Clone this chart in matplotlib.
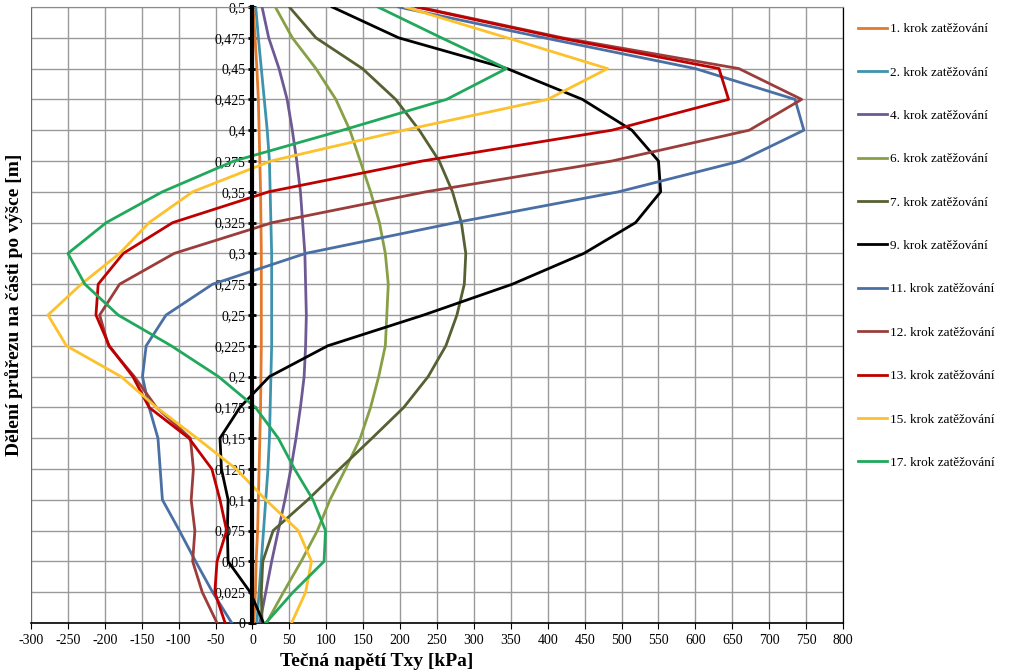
import matplotlib
matplotlib.use("Agg")
import matplotlib.pyplot as plt

plt.rcParams['font.family'] = ['Liberation Serif', 'DejaVu Serif']

# vyska v prurezu [m]
vyska = [0, 0.025, 0.05, 0.075, 0.1, 0.125, 0.15, 0.175, 0.2, 0.225, 0.25,
         0.275, 0.3, 0.325, 0.35, 0.375, 0.4, 0.425, 0.45, 0.475, 0.5]
vyska_popisky = ['0', '0,025', '0,05', '0,075', '0,1', '0,125', '0,15', '0,175', '0,2',
                 '0,225', '0,25', '0,275', '0,3', '0,325', '0,35', '0,375', '0,4',
                 '0,425', '0,45', '0,475', '0,5']
x_ticks = [-300, -250, -200, -150, -100, -50, 0, 50, 100, 150, 200, 250, 300,
           350, 400, 450, 500, 550, 600, 650, 700, 750, 800]

# tecna napeti Txy [kPa] pro jednotlive kroky zatezovani (odspodu nahoru)
krok1 = [2, 4, 5, 7, 8, 9, 10, 11, 11.5, 12, 12, 12, 12, 11.5, 11, 10, 9, 8, 6, 3.5, 1]
krok2 = [6, 9, 12, 15, 18, 21, 23, 24, 25, 26, 26, 26, 26, 25, 24, 23, 20, 16, 12, 8, 4.5]
krok4 = [10, 18, 26, 35, 44, 52, 59, 65, 70, 72, 73, 72, 71, 68, 65, 60, 54, 47, 36, 22, 13]
krok6 = [19, 42, 66, 88, 105, 126, 146, 160, 171, 180, 182, 184, 180, 172, 160, 146, 132, 113, 86, 54, 31]
krok7 = [13, 12, 14, 28, 75, 118, 162, 205, 238, 262, 277, 287, 289, 283, 271, 253, 226, 194, 149, 86, 50]
krok9 = [15, -3, -33, -34, -33, -42, -44, -17, 23, 102, 232, 352, 449, 519, 553, 550, 514, 447, 345, 198, 108]
krok11 = [-28, -54, -77, -99, -122, -125, -128, -140, -149, -144, -117, -54, 72, 275, 496, 661, 747, 735, 600, 395, 198]
krok12 = [-48, -68, -81, -78, -83, -80, -84, -130, -160, -195, -207, -180, -106, 27, 235, 487, 673, 744, 659, 420, 225]
krok13 = [-37, -51, -48, -35, -44, -55, -86, -140, -162, -194, -212, -209, -175, -108, 22, 230, 487, 645, 632, 415, 222]
krok15 = [53, 72, 80, 62, 18, -22, -75, -130, -178, -252, -277, -232, -180, -140, -81, 25, 205, 400, 481, 345, 207]
krok17 = [18, 55, 97, 99, 82, 57, 35, 4, -46, -110, -182, -227, -250, -198, -122, -25, 122, 263, 344, 256, 170]

serie = [krok1, krok2, krok4, krok6, krok7, krok9, krok11, krok12, krok13, krok15, krok17]
nazvy = ['1. krok zatěžování', '2. krok zatěžování', '4. krok zatěžování',
         '6. krok zatěžování', '7. krok zatěžování', '9. krok zatěžování',
         '11. krok zatěžování', '12. krok zatěžování', '13. krok zatěžování',
         '15. krok zatěžování', '17. krok zatěžování']
barvy = ['#E3792B', '#3E93AD', '#6E5994', '#87A046', '#556133', '#000000',
         '#4A6FA5', '#9B3E3B', '#C00000', '#FCC12B', '#20A85B']

fig = plt.figure(figsize=(10.24, 6.71), dpi=100)
ax = fig.add_axes([31/1024, 1 - 623/671, (843 - 31)/1024, (623 - 7)/671])

for s, n, c in zip(serie, nazvy, barvy):
    ax.plot(s, vyska, color=c, lw=2.0, label=n, zorder=3)

ax.set_xlim(-300, 800)
ax.set_ylim(0, 0.5)
ax.set_xticks(x_ticks)
ax.set_xticklabels([str(v) for v in x_ticks])
ax.set_yticks(vyska)
ax.set_yticklabels(vyska_popisky)
ax.grid(True, color='#9A9A9A', lw=1.0, zorder=0)
ax.set_axisbelow(True)

# svisla osa v x = 0
ax.spines['left'].set_position(('data', 0))
ax.spines['left'].set_linewidth(3)
ax.spines['left'].set_color('black')
ax.spines['left'].set_zorder(4)
ax.spines['bottom'].set_color('black')
ax.spines['bottom'].set_linewidth(1.2)
ax.spines['top'].set_color('#8A8A8A')
ax.spines['right'].set_color('black')
ax.spines['right'].set_linewidth(0.9)
ax.axvline(-300, color='#6A6A6A', lw=1.5, zorder=1)

ax.tick_params(axis='y', direction='inout', length=6, width=2, labelsize=10, pad=2)
ax.tick_params(axis='x', direction='out', length=4, width=0.8, labelsize=10, pad=4)

fig.text(377/1024, 1 - 661/671, 'Tečná napětí Txy [kPa]', ha='center', va='center',
         fontsize=14, fontweight='bold')
fig.text(14/1024, 1 - 305/671, 'Dělení průřezu na části po výšce [m]', ha='center',
         va='center', rotation=90, fontsize=14, fontweight='bold')

ax.legend(loc='upper left', bbox_to_anchor=(858/1024, 1 - 23/671),
          bbox_transform=fig.transFigure, frameon=False, fontsize=9.5,
          handlelength=2.2, handletextpad=0.2, labelspacing=2.36,
          borderaxespad=0, borderpad=0)

fig.savefig('out.png', dpi=100)
